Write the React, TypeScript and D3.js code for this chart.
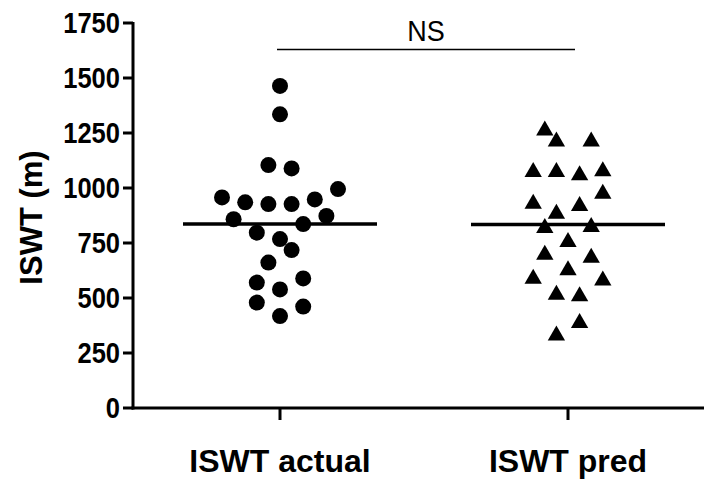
import React from 'react';
import * as d3 from 'd3';

const width = 704;
const height = 481;

const categories = ['ISWT actual', 'ISWT pred'];
const yTicks = [0, 250, 500, 750, 1000, 1250, 1500, 1750];

// ISWT actual (m) and the swarm column each dot sits in
const actualValues = [1464, 1335, 1104, 1089, 995, 957, 935, 927, 927, 948, 858, 873, 836, 797, 768, 718, 661, 589, 570, 539, 479, 461, 418];
const actualSlots = [0, 0, -1, 1, 5, -5, -3, -1, 1, 3, -4, 4, 2, -2, 0, 1, -1, 2, -2, 0, -2, 2, 0];

// ISWT predicted (m)
const predValues = [1271, 1221, 1221, 1082, 1082, 1067, 1085, 983, 938, 927, 892, 827, 832, 764, 706, 692, 635, 597, 589, 524, 517, 395, 339];
const predSlots = [-2, -1, 2, -3, -1, 1, 3, 3, -3, 1, -1, -2, 2, 0, -2, 2, 0, -3, 3, -1, 1, 1, -1];

const nsLevel = 1630;

const font = "'Liberation Sans', Arial, Helvetica, sans-serif";

export default function App() {
  const margin = { left: 133, top: 23, bottom: 73 };
  const plotBottom = height - margin.bottom;

  const y = d3.scaleLinear().domain([0, 1750]).range([plotBottom, margin.top]);
  const x = d3.scalePoint().domain(categories).range([280, 568]);
  const slot = d3.scaleLinear().domain([-1, 1]).range([-11.6, 11.6]);

  const actualMean = d3.mean(actualValues) as number;
  const predMean = d3.mean(predValues) as number;
  const triangle = d3.symbol(d3.symbolTriangle, 130)();

  const xa = x(categories[0]) as number;
  const xp = x(categories[1]) as number;

  return (
    <svg width={width} height={height} style={{ position: 'absolute', left: 0, top: 0 }}>
      <rect width={width} height={height} fill="#fff" />

      {/* y axis */}
      <line x1={margin.left} x2={margin.left} y1={y(1750) - 1} y2={plotBottom + 1.5} stroke="#000" strokeWidth={3} />
      {yTicks.map(t => (
        <g key={t}>
          <line x1={margin.left - 10} x2={margin.left} y1={y(t)} y2={y(t)} stroke="#000" strokeWidth={3} />
          <text transform={`translate(${margin.left - 13}, ${y(t)}) scale(0.88, 1)`} dy="0.36em" textAnchor="end"
            fontFamily={font} fontWeight="bold" fontSize={29}>{t}</text>
        </g>
      ))}
      <text transform={`translate(42, ${(y(0) + y(1750)) / 2 + 2}) rotate(-90)`} textAnchor="middle"
        fontFamily={font} fontWeight="bold" fontSize={31}>ISWT (m)</text>

      {/* x axis */}
      <line x1={margin.left - 1.5} x2={width} y1={plotBottom} y2={plotBottom} stroke="#000" strokeWidth={3} />
      {categories.map(c => (
        <g key={c}>
          <line x1={x(c)} x2={x(c)} y1={plotBottom} y2={plotBottom + 12} stroke="#000" strokeWidth={3} />
          <text x={x(c)} y={plotBottom + 64} textAnchor="middle"
            fontFamily={font} fontWeight="bold" fontSize={32}>{c}</text>
        </g>
      ))}

      {/* points */}
      {actualValues.map((v, i) => (
        <circle key={'a' + i} cx={xa + slot(actualSlots[i])} cy={y(v)} r={8} fill="#000" />
      ))}
      {predValues.map((v, i) => (
        <path key={'p' + i} d={triangle as string}
          transform={`translate(${xp + slot(predSlots[i])}, ${y(v) + 2})`} fill="#000" />
      ))}

      {/* means */}
      <line x1={xa - 97} x2={xa + 97} y1={y(actualMean)} y2={y(actualMean)} stroke="#000" strokeWidth={3.5} />
      <line x1={xp - 97} x2={xp + 97} y1={y(predMean)} y2={y(predMean)} stroke="#000" strokeWidth={3.5} />

      {/* significance */}
      <line x1={xa - 3} x2={xp + 7} y1={y(nsLevel)} y2={y(nsLevel)} stroke="#000" strokeWidth={1.5} />
      <text transform={`translate(${(xa + xp) / 2 + 2}, ${y(nsLevel) - 8}) scale(0.9, 1)`} textAnchor="middle"
        fontFamily={font} fontSize={30}>NS</text>
    </svg>
  );
}
